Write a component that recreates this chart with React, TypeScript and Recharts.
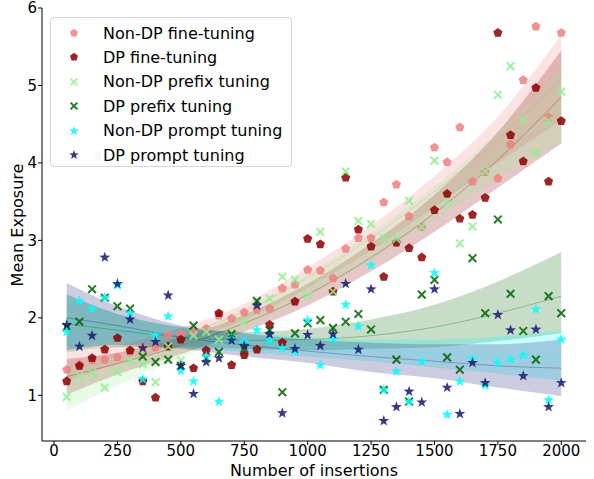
import { Area, ComposedChart, Line, Scatter, XAxis, YAxis } from "recharts";

// number of inserted canaries (x of every scatter point)
const insertions = [
  50, 100, 150, 200, 250, 300, 350, 400, 450, 500,
  550, 600, 650, 700, 750, 800, 850, 900, 950, 1000,
  1050, 1100, 1150, 1200, 1250, 1300, 1350, 1400, 1450, 1500,
  1550, 1600, 1650, 1700, 1750, 1800, 1850, 1900, 1950, 2000,
];

const nonDpFine = [
  1.33, 1.40, 1.45, 1.46, 1.49, 1.56, 1.62, 1.62, 1.78, 1.79,
  1.82, 1.86, 2.03, 1.99, 2.07, 2.10, 2.12, 2.38, 2.43, 2.62,
  2.61, 2.51, 2.89, 3.03, 3.03, 3.49, 3.72, 3.31, 3.17, 4.20,
  4.01, 4.46, 3.76, 3.88, 3.80, 4.24, 5.07, 5.76, 4.59, 5.68,
];
const dpFine = [
  1.18, 1.38, 1.48, 1.59, 1.74, 1.58, 1.18, 0.97, 1.63, 1.72,
  1.35, 1.58, 2.06, 1.39, 1.52, 1.59, 1.91, 1.68, 2.21, 3.02,
  2.95, 2.34, 3.81, 3.14, 2.92, 2.53, 2.97, 2.90, 2.78, 3.39,
  3.60, 3.28, 3.33, 3.55, 5.68, 4.36, 4.02, 4.97, 3.76, 4.54,
];
const nonDpPrefix = [
  0.98, 1.25, 1.29, 1.10, 1.30, 1.45, 1.40, 1.17, 1.63, 1.45,
  1.77, 1.82, 1.72, 1.80, 1.95, 2.20, 2.25, 2.53, 2.49, 2.29,
  3.11, 2.34, 3.89, 3.25, 3.21, 3.03, 3.02, 3.51, 3.17, 4.03,
  3.50, 2.96, 3.18, 3.89, 4.88, 5.25, 4.55, 4.13, 4.54, 4.92,
];
const dpPrefix = [
  1.88, 1.95, 2.37, 2.26, 2.15, 2.12, 1.50, 1.43, 1.46, 1.38,
  1.90, 1.48, 1.56, 1.79, 1.60, 2.22, 1.84, 1.04, 1.80, 1.93,
  1.97, 1.87, 1.95, 2.05, 1.85, 1.07, 1.46, 0.92, 2.30, 2.49,
  1.49, 1.33, 2.77, 2.06, 3.27, 2.31, 1.83, 1.46, 2.28, 2.06,
];
const nonDpPrompt = [
  1.82, 2.22, 2.12, 2.26, 2.42, 2.06, 1.21, 1.77, 2.02, 1.32,
  1.18, 1.50, 0.92, 1.73, 1.69, 1.84, 1.71, 1.61, 1.56, 1.97,
  1.39, 1.73, 2.17, 1.89, 2.68, 1.07, 1.31, 0.92, 1.44, 2.58,
  0.75, 1.18, 1.47, 1.13, 1.42, 1.46, 1.52, 2.11, 0.94, 1.72,
];
const dpPrompt = [
  1.91, 1.63, 1.77, 2.78, 2.44, 1.98, 1.61, 1.69, 2.29, 1.38,
  1.02, 1.43, 1.48, 1.71, 1.64, 2.16, 1.79, 0.77, 1.60, 1.78,
  1.64, 1.79, 2.44, 1.59, 2.37, 0.67, 0.85, 1.05, 0.91, 2.37,
  1.10, 0.76, 1.42, 1.16, 2.04, 1.84, 1.25, 1.85, 0.85, 1.16,
];

// regression fits and their confidence bands, read at these x positions
const bandX = [50, 250, 500, 750, 1000, 1250, 1500, 1750, 2000];

const nonDpFineMid = [1.37, 1.53, 1.77, 2.08, 2.52, 3.03, 3.63, 4.3, 5.1];
const nonDpFineLow = [1.19, 1.41, 1.67, 1.98, 2.39, 2.87, 3.43, 4.0, 4.55];
const nonDpFineHigh = [1.55, 1.65, 1.87, 2.18, 2.65, 3.19, 3.83, 4.6, 5.65];

const dpFineMid = [1.24, 1.41, 1.64, 1.93, 2.3, 2.78, 3.35, 4.04, 4.85];
const dpFineLow = [1.01, 1.27, 1.53, 1.82, 2.16, 2.6, 3.11, 3.68, 4.25];
const dpFineHigh = [1.47, 1.55, 1.75, 2.04, 2.44, 2.96, 3.59, 4.4, 5.45];

const nonDpPrefixMid = [1.1, 1.33, 1.63, 1.99, 2.42, 2.92, 3.48, 4.1, 4.75];
const nonDpPrefixLow = [0.8, 1.13, 1.48, 1.86, 2.27, 2.74, 3.26, 3.8, 4.25];
const nonDpPrefixHigh = [1.4, 1.53, 1.78, 2.12, 2.57, 3.1, 3.7, 4.4, 5.25];

const dpPrefixMid = [1.92, 1.84, 1.75, 1.71, 1.72, 1.77, 1.88, 2.06, 2.28];
const dpPrefixLow = [1.55, 1.62, 1.62, 1.6, 1.58, 1.6, 1.62, 1.7, 1.8];
const dpPrefixHigh = [2.3, 2.05, 1.88, 1.82, 1.86, 1.98, 2.17, 2.47, 2.85];

const nonDpPromptMid = [1.96, 1.86, 1.75, 1.68, 1.62, 1.58, 1.54, 1.51, 1.5];
const nonDpPromptLow = [1.62, 1.68, 1.62, 1.56, 1.5, 1.44, 1.36, 1.28, 1.19];
const nonDpPromptHigh = [2.3, 2.05, 1.88, 1.8, 1.75, 1.72, 1.72, 1.76, 1.84];

const dpPromptMid = [2.0, 1.9, 1.75, 1.65, 1.57, 1.5, 1.44, 1.38, 1.35];
const dpPromptLow = [1.58, 1.65, 1.6, 1.5, 1.42, 1.3, 1.22, 1.1, 0.99];
const dpPromptHigh = [2.45, 2.15, 1.9, 1.8, 1.72, 1.68, 1.66, 1.66, 1.72];

const xTicks = [0, 250, 500, 750, 1000, 1250, 1500, 1750, 2000];
const yTicks = [1, 2, 3, 4, 5, 6];

type Marker = "pentagon" | "x" | "star";

const series = [
  { key: "nonDpFine", name: "Non-DP fine-tuning", color: "#F08080", marker: "pentagon" as Marker, values: nonDpFine, mid: nonDpFineMid, low: nonDpFineLow, high: nonDpFineHigh },
  { key: "dpFine", name: "DP fine-tuning", color: "#8B0000", marker: "pentagon" as Marker, values: dpFine, mid: dpFineMid, low: dpFineLow, high: dpFineHigh },
  { key: "nonDpPrefix", name: "Non-DP prefix tuning", color: "#90EE90", marker: "x" as Marker, values: nonDpPrefix, mid: nonDpPrefixMid, low: nonDpPrefixLow, high: nonDpPrefixHigh },
  { key: "dpPrefix", name: "DP prefix tuning", color: "#006400", marker: "x" as Marker, values: dpPrefix, mid: dpPrefixMid, low: dpPrefixLow, high: dpPrefixHigh },
  { key: "nonDpPrompt", name: "Non-DP prompt tuning", color: "#00FFFF", marker: "star" as Marker, values: nonDpPrompt, mid: nonDpPromptMid, low: nonDpPromptLow, high: nonDpPromptHigh },
  { key: "dpPrompt", name: "DP prompt tuning", color: "#191970", marker: "star" as Marker, values: dpPrompt, mid: dpPromptMid, low: dpPromptLow, high: dpPromptHigh },
];

const bandRows = bandX.map((x, i) => {
  const row: Record<string, unknown> = { x };
  series.forEach((s) => {
    row[`${s.key}Band`] = [s.low[i], s.high[i]];
    row[`${s.key}Mid`] = s.mid[i];
  });
  return row;
});

const FONT = "'DejaVu Sans', sans-serif";

function markerPath(marker: Marker, cx: number, cy: number, r: number) {
  if (marker === "pentagon") {
    const pts = [0, 1, 2, 3, 4].map((k) => {
      const a = ((-90 + k * 72) * Math.PI) / 180;
      return `${cx + r * Math.cos(a)},${cy + r * Math.sin(a)}`;
    });
    return `M${pts.join("L")}Z`;
  }
  if (marker === "star") {
    const pts: string[] = [];
    for (let k = 0; k < 10; k++) {
      const a = ((-90 + k * 36) * Math.PI) / 180;
      const rr = k % 2 === 0 ? r * 1.2 : r * 0.48;
      pts.push(`${cx + rr * Math.cos(a)},${cy + rr * Math.sin(a)}`);
    }
    return `M${pts.join("L")}Z`;
  }
  const d = r * 0.8;
  return `M${cx - d},${cy - d}L${cx + d},${cy + d}M${cx - d},${cy + d}L${cx + d},${cy - d}`;
}

function MarkerShape({ marker, color, cx, cy, r }: { marker: Marker; color: string; cx: number; cy: number; r: number }) {
  const d = markerPath(marker, cx, cy, r);
  if (marker === "x") {
    return <path d={d} stroke={color} strokeWidth={2} strokeOpacity={0.85} fill="none" />;
  }
  return <path d={d} fill={color} fillOpacity={0.85} stroke="none" />;
}

function LegendBox() {
  return (
    <div
      style={{
        position: "absolute",
        left: 50,
        top: 17,
        width: 242,
        height: 150,
        boxSizing: "border-box",
        border: "1px solid #d6d6d6",
        borderRadius: 4,
        background: "rgba(255,255,255,0.85)",
        fontFamily: FONT,
        fontSize: 16,
        color: "#000",
      }}
    >
      {series.map((s, i) => (
        <div
          key={s.key}
          style={{ position: "absolute", left: 0, top: 3 + i * 24.4, height: 24, display: "flex", alignItems: "center" }}
        >
          <svg width={46} height={24} style={{ display: "block" }}>
            <MarkerShape marker={s.marker} color={s.color} cx={23} cy={12} r={4.2} />
          </svg>
          <span style={{ marginLeft: 6, whiteSpace: "nowrap" }}>{s.name}</span>
        </div>
      ))}
    </div>
  );
}

export default function App() {
  const tickStyle = { fill: "#000", fontSize: 15, fontFamily: FONT };
  return (
    <div style={{ position: "absolute", left: 0, top: 0, width: 594, height: 479, background: "#fff" }}>
      <ComposedChart width={594} height={479} data={bandRows} margin={{ top: 8, right: 8, bottom: 0, left: 0 }}>
        <XAxis
          dataKey="x"
          type="number"
          domain={[-47.5, 2097.5]}
          ticks={xTicks}
          interval={0}
          allowDataOverflow
          height={38}
          tickSize={4}
          tickMargin={0}
          tick={tickStyle}
          axisLine={{ stroke: "#000" }}
          tickLine={{ stroke: "#000" }}
        />
        <XAxis xAxisId="top" orientation="top" type="number" domain={[-47.5, 2097.5]} height={0} tick={false} tickLine={false} axisLine={{ stroke: "#000" }} />
        <YAxis
          type="number"
          domain={[0.41, 6]}
          ticks={yTicks}
          interval={0}
          allowDataOverflow
          width={42}
          tickSize={4}
          tickMargin={1}
          tick={tickStyle}
          axisLine={{ stroke: "#000" }}
          tickLine={{ stroke: "#000" }}
        />
        <YAxis yAxisId="right" orientation="right" type="number" domain={[0.41, 6]} width={0} tick={false} tickLine={false} axisLine={{ stroke: "#000" }} />
        {series.map((s) => (
          <Area
            key={`${s.key}-band`}
            dataKey={`${s.key}Band`}
            type="monotone"
            fill={s.color}
            fillOpacity={0.22}
            stroke="none"
            isAnimationActive={false}
            activeDot={false}
          />
        ))}
        {series.map((s) => (
          <Line
            key={`${s.key}-fit`}
            dataKey={`${s.key}Mid`}
            type="monotone"
            stroke={s.color}
            strokeOpacity={0.3}
            strokeWidth={1}
            dot={false}
            activeDot={false}
            isAnimationActive={false}
          />
        ))}
        {series.map((s) => (
          <Scatter
            key={`${s.key}-pts`}
            name={s.name}
            data={insertions.map((x, i) => ({ x, y: s.values[i] }))}
            dataKey="y"
            isAnimationActive={false}
            shape={(p: any) => <MarkerShape marker={s.marker} color={s.color} cx={p.cx} cy={p.cy} r={4.8} />}
          />
        ))}
      </ComposedChart>
      <LegendBox />
      <div
        style={{
          position: "absolute",
          left: 18,
          top: 225,
          transform: "translate(-50%, -50%) rotate(-90deg)",
          fontFamily: FONT,
          fontSize: 16,
          lineHeight: "16px",
          whiteSpace: "nowrap",
          color: "#000",
        }}
      >
        Mean Exposure
      </div>
      <div
        style={{
          position: "absolute",
          left: 314,
          top: 470,
          transform: "translate(-50%, -50%)",
          fontFamily: FONT,
          fontSize: 16,
          lineHeight: "15px",
          whiteSpace: "nowrap",
          color: "#000",
        }}
      >
        Number of insertions
      </div>
    </div>
  );
}
